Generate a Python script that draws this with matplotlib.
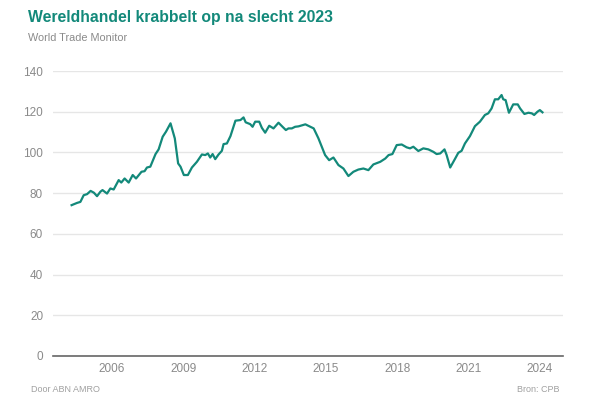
import matplotlib
matplotlib.use("Agg")
import matplotlib.pyplot as plt

# World Trade Monitor index (decimal year, value)
years = [
    2004.31, 2004.54, 2004.68, 2004.82, 2004.96, 2005.11, 2005.25, 2005.38, 2005.52, 2005.61,
    2005.80, 2005.94, 2006.08, 2006.29, 2006.40, 2006.54, 2006.71, 2006.88, 2007.02, 2007.25,
    2007.38, 2007.48, 2007.62, 2007.84, 2007.97, 2008.14, 2008.28, 2008.47, 2008.65, 2008.79,
    2008.89, 2009.03, 2009.20, 2009.37, 2009.58, 2009.79, 2009.93, 2010.04, 2010.14, 2010.24,
    2010.35, 2010.49, 2010.63, 2010.70, 2010.84, 2010.99, 2011.20, 2011.41, 2011.54, 2011.63,
    2011.82, 2011.92, 2012.03, 2012.20, 2012.31, 2012.45, 2012.62, 2012.80, 2013.01, 2013.18,
    2013.32, 2013.43, 2013.57, 2013.71, 2013.85, 2014.14, 2014.35, 2014.49, 2014.69, 2014.97,
    2015.14, 2015.32, 2015.53, 2015.74, 2015.95, 2016.16, 2016.37, 2016.58, 2016.79, 2017.00,
    2017.29, 2017.50, 2017.64, 2017.80, 2017.98, 2018.19, 2018.40, 2018.54, 2018.68, 2018.89,
    2019.10, 2019.31, 2019.52, 2019.66, 2019.81, 2019.99, 2020.08, 2020.23, 2020.44, 2020.57,
    2020.71, 2020.85, 2021.06, 2021.27, 2021.48, 2021.69, 2021.83, 2021.97, 2022.11, 2022.25,
    2022.39, 2022.46, 2022.56, 2022.70, 2022.88, 2023.07, 2023.17, 2023.35, 2023.52, 2023.66,
    2023.76, 2023.90, 2024.00, 2024.11,
]
values = [
    74.1, 75.2, 75.7, 79.0, 79.5, 81.1, 80.2, 78.5, 80.7, 81.5,
    79.8, 82.3, 81.8, 86.4, 85.2, 87.2, 85.2, 88.9, 87.2, 90.5,
    90.8, 92.6, 93.0, 99.2, 101.5, 107.7, 110.2, 114.3, 106.9, 94.6,
    93.0, 88.9, 88.9, 92.6, 95.4, 99.0, 98.7, 99.5, 97.5, 99.2,
    96.7, 99.0, 100.8, 104.1, 104.4, 108.0, 115.6, 115.9, 117.2, 114.8,
    113.9, 112.6, 115.1, 115.1, 112.1, 109.7, 113.1, 111.8, 114.6, 112.6,
    111.0, 111.8, 111.8, 112.6, 112.8, 113.8, 112.6, 111.8, 106.9, 98.7,
    96.2, 97.5, 93.8, 92.1, 88.4, 90.5, 91.6, 92.1, 91.3, 94.1,
    95.4, 97.0, 98.7, 99.2, 103.6, 103.9, 102.5, 102.0, 102.8, 100.7,
    102.0, 101.5, 100.3, 99.2, 99.5, 101.5, 98.7, 92.6, 97.0, 99.8,
    100.8, 104.4, 108.0, 112.9, 115.1, 118.4, 119.2, 121.6, 126.1, 126.1,
    128.2, 126.1, 125.7, 119.5, 123.6, 123.6, 121.6, 118.9, 119.5, 119.2,
    118.4, 120.0, 120.8, 119.7,
]
x_ticks = [2006, 2009, 2012, 2015, 2018, 2021, 2024]
y_ticks = [0, 20, 40, 60, 80, 100, 120, 140]

teal = "#13897a"
grey = "#8a8a8a"

plt.rcParams["font.family"] = ["Liberation Sans", "DejaVu Sans"]

fig = plt.figure(figsize=(6, 4), dpi=100)
ax = fig.add_axes([0.088, 0.11, 0.851, 0.7125])

ax.plot(years, values, color=teal, linewidth=1.6, solid_joinstyle="round")

ax.set_xlim(2003.52, 2024.99)
ax.set_ylim(0, 140)
ax.set_xticks(x_ticks)
ax.set_yticks(y_ticks)
ax.grid(axis="y", color="#e6e6e6", linewidth=1)
ax.set_axisbelow(True)

for side in ["top", "right", "left"]:
    ax.spines[side].set_visible(False)
ax.spines["bottom"].set_color("#666666")
ax.spines["bottom"].set_linewidth(1.2)

ax.tick_params(axis="both", length=0, colors=grey, labelsize=8.5)
ax.tick_params(axis="x", pad=5)
ax.tick_params(axis="y", pad=7)

fig.text(0.047, 0.957, "Wereldhandel krabbelt op na slecht 2023", color=teal,
         fontsize=11.3, fontweight="bold", va="center", ha="left")
fig.text(0.047, 0.906, "World Trade Monitor", color=grey, fontsize=7.8,
         va="center", ha="left")
fig.text(0.051, 0.0275, "Door ABN AMRO", color="#a0a0a0", fontsize=6.5,
         va="center", ha="left")
fig.text(0.932, 0.0275, "Bron: CPB", color="#a0a0a0", fontsize=6.5,
         va="center", ha="right")

fig.savefig("out.png", dpi=100)
